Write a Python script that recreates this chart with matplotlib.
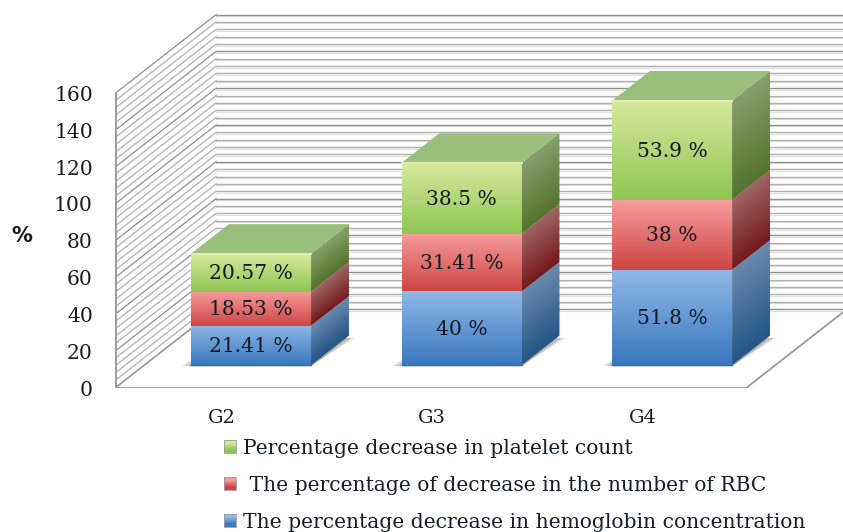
import numpy as np
import matplotlib
matplotlib.use('Agg')
import matplotlib.pyplot as plt
from matplotlib.patches import Polygon
from matplotlib.colors import to_rgb

groups = ['G2', 'G3', 'G4']
hemoglobin = [21.41, 40, 51.8]
rbc = [18.53, 31.41, 38]
platelet = [20.57, 38.5, 53.9]
hemoglobin_txt = ['21.41 %', '40 %', '51.8 %']
rbc_txt = ['18.53 %', '31.41 %', '38 %']
platelet_txt = ['20.57 %', '38.5 %', '53.9 %']
yticks = [0, 20, 40, 60, 80, 100, 120, 140, 160]
legend_labels = ['Percentage decrease in platelet count',
                 ' The percentage of decrease in the number of RBC',
                 'The percentage decrease in hemoglobin concentration']

W, H = 843, 532
plt.rcParams['font.family'] = ['DejaVu Serif']

# oblique projection, depth 0 = front of the floor, 1 = back wall
DX = 0.48
DY = 42.9
BAR_W = 0.57
D0, D1 = 0.29, 0.665
XMIN, XMAX = -0.507, 2.951
YMAX = 205.4

blue = dict(front=('#8fb8e6', '#3a78bf'), side=('#6a8aae', '#235586'), top='#8aaed6')
red = dict(front=('#f79c9c', '#cd4542'), side=('#a06464', '#74191c'), top='#c97a7a')
green = dict(front=('#d8e89c', '#8ec653'), side=('#85a06c', '#54732c'), top='#9abf7c')


def proj(x, y, d):
    return x + DX * d, y + DY * d


def gradient(ax, pts, c1, c2, slope=0.0, zorder=3):
    pts = np.array(pts)
    x0, x1 = pts[:, 0].min(), pts[:, 0].max()
    y0, y1 = pts[:, 1].min(), pts[:, 1].max()
    xx, yy = np.meshgrid(np.linspace(x0, x1, 40), np.linspace(y1, y0, 120))
    top = pts[0, 1] + (xx - pts[0, 0]) * slope
    h = pts[0, 1] - pts[-1, 1]
    t = np.clip((top - yy) / h, 0, 1)[..., None]
    img = np.array(to_rgb(c1)) * (1 - t) + np.array(to_rgb(c2)) * t
    im = ax.imshow(img, extent=(x0, x1, y0, y1), aspect='auto', zorder=zorder,
                   interpolation='bilinear')
    im.set_clip_path(Polygon(pts, closed=True, transform=ax.transData))


fig = plt.figure(figsize=(W / 100, H / 100), dpi=100)
ax = fig.add_axes([115 / W, (H - 388) / H, (W - 115) / W, 378 / H])
ax.set_facecolor('none')

# walls
for v in np.arange(0, 161, 4):
    major = v % 20 == 0
    col = '#8f8f8f' if major else '#b0b0b0'
    x0, y0 = proj(XMIN, v, 0)
    x1, y1 = proj(XMIN, v, 1)
    ax.plot([x1, XMAX], [y1 - 0.8, y1 - 0.8], color='#e0e0e0', lw=0.8, zorder=1)
    ax.plot([x0, x1], [y0, y1], color=col, lw=0.9, zorder=1.2)
    ax.plot([x1, XMAX], [y1, y1], color=col, lw=1.0, zorder=1.2)

# floor outline
fx = [XMIN, XMIN + 631 / 210.5, XMAX]
ax.plot([XMIN, fx[1]], [0, 0], color='#9a9a9a', lw=2.0, zorder=2)
ax.plot([fx[1], XMAX], [0, DY * (XMAX - fx[1]) / DX], color='#9a9a9a', lw=1.3, zorder=2)
ax.plot([XMIN, XMIN], [0, 160], color='#9a9a9a', lw=2.0, zorder=2)
ax.plot(*zip(proj(XMIN, 0, 0), proj(XMIN, 0, 1)), color='#9a9a9a', lw=1.0, zorder=2)

# bars
for i in range(len(groups)):
    xl, xr = i - BAR_W / 2, i + BAR_W / 2
    # soft shadow on the floor
    for k in range(6):
        e = 0.009 * k
        a = proj(xl - e, -0.9 + 0.1 * k, D0)
        b = proj(xr, -0.9 + 0.1 * k, D0)
        c = proj(xr + e, 0, D1 - 0.03)
        d = proj(xl, 0, D1)
        ax.add_patch(Polygon([a, b, c, d], closed=True, fc='#404040', ec='none',
                             alpha=0.1, zorder=2.5))
    base = 0
    stack = [(hemoglobin, hemoglobin_txt, blue), (rbc, rbc_txt, red), (platelet, platelet_txt, green)]
    for vals, txts, st in stack:
        v = vals[i]
        fl = proj(xl, base, D0)
        fr = proj(xr, base, D0)
        tl = proj(xl, base + v, D0)
        tr = proj(xr, base + v, D0)
        br = proj(xr, base, D1)
        ur = proj(xr, base + v, D1)
        gradient(ax, [tl, tr, fr, fl], st['front'][0], st['front'][1])
        slope = (ur[1] - tr[1]) / (ur[0] - tr[0])
        gradient(ax, [tr, ur, br, fr], st['side'][0], st['side'][1], slope=slope)
        ax.text(i + DX * D0, base + v / 2 + DY * D0 - 0.5, txts[i], ha='center', va='center',
                fontsize=14.6, color='#111a24', zorder=5)
        base += v
    # top of the stack
    top = [proj(xl, base, D0), proj(xr, base, D0), proj(xr, base, D1), proj(xl, base, D1)]
    ax.add_patch(Polygon(top, closed=True, fc=green['top'], ec='none', zorder=3.5))
    ax.plot(*zip(top[0], top[1]), color='#e2efb4', lw=1.4, zorder=4)
    # front bottom edge
    ax.plot(*zip(proj(xl, 0, D0), proj(xr, 0, D0)), color='#2f68a8', lw=0.8, zorder=4)

ax.set_xlim(XMIN, XMAX)
ax.set_ylim(0, YMAX)
for s in ax.spines.values():
    s.set_visible(False)
ax.set_yticks(yticks)
ax.set_yticklabels([str(t) for t in yticks])
ax.set_xticks(range(len(groups)))
ax.set_xticklabels(groups)
ax.tick_params(axis='y', length=0, pad=16, labelsize=14.6, labelcolor='#1a1a1a')
ax.tick_params(axis='x', length=0, pad=15, labelsize=14, labelcolor='#1a1a1a')
ax.set_ylabel('%', rotation=0, fontsize=15, fontweight='bold', family='DejaVu Sans', color='#1a1a1a')
ax.yaxis.set_label_coords((22 - 115) / 728, (388 - 246) / 378)

# legend
legend_y = [447, 484, 521]
legend_x = [243, 243, 243]
legend_cols = [green, red, blue]
lax = fig.add_axes([0, 0, 1, 1])
lax.set_xlim(0, W)
lax.set_ylim(H, 0)
lax.axis('off')
for lab, ly, lx, st in zip(legend_labels, legend_y, legend_x, legend_cols):
    sq = [(224, ly - 7), (236, ly - 7), (236, ly + 6), (224, ly + 6)]
    img = np.array([[to_rgb(st['front'][0])], [to_rgb(st['front'][1])]])
    lax.imshow(img, extent=(224, 236, ly + 6, ly - 7), aspect='auto', interpolation='bilinear')
    lax.add_patch(Polygon(sq, closed=True, fc='none', ec='#9a9a9a', lw=0.6))
    lax.text(lx, ly + 1.5, lab, ha='left', va='center', fontsize=14.6, color='#141d28')
lax.set_xlim(0, W)
lax.set_ylim(H, 0)

fig.savefig('out.png', dpi=100)
